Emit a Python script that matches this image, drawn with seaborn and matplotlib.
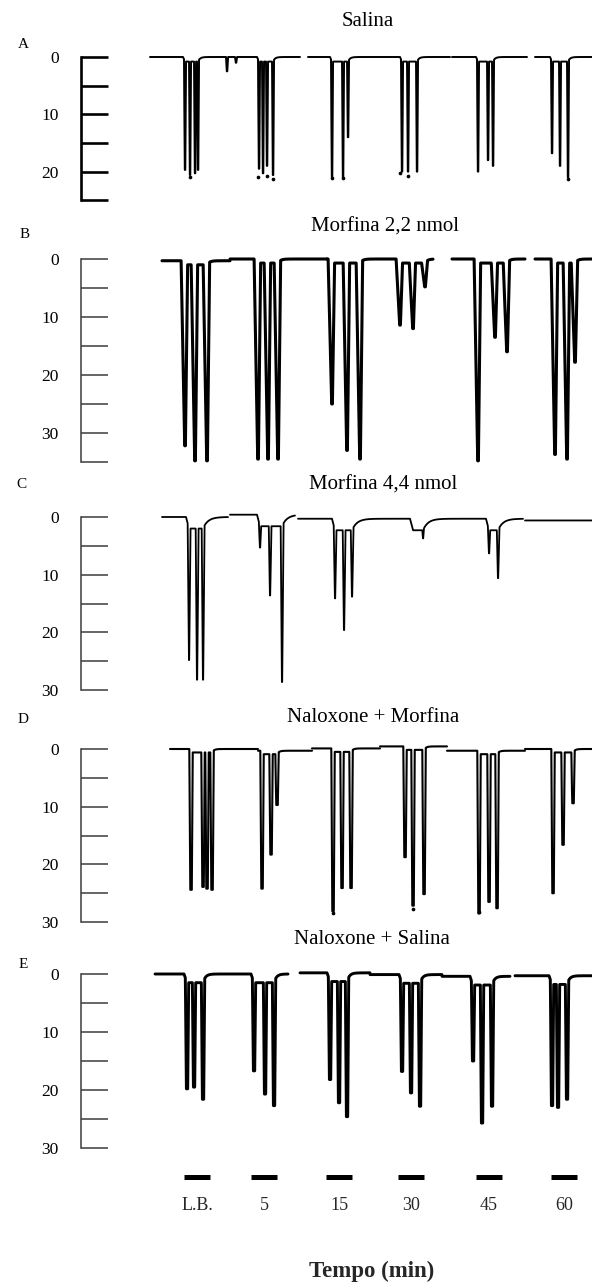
import numpy as np
import pandas as pd
import matplotlib
matplotlib.use("Agg")
import matplotlib.pyplot as plt
import seaborn as sns

sns.set_theme(style="white")
plt.rcParams['font.family'] = ['Liberation Serif', 'DejaVu Serif']

W, H = 592, 1284

# ---------------- data ----------------
panel_letters = ["A", "B", "C", "D", "E"]
panel_titles = ["Salina", "Morfina 2,2 nmol", "Morfina 4,4 nmol",
                "Naloxone + Morfina", "Naloxone + Salina"]
scale_max = [25, 35, 30, 30, 30]
scale_labels = [[0, 10, 20], [0, 10, 20, 30], [0, 10, 20, 30],
                [0, 10, 20, 30], [0, 10, 20, 30]]

# spike position along the chart paper and amplitude (scale units)
A_times = [185, 190, 195, 198, 227, 236, 259, 263, 267, 273, 332, 343, 348,
           402, 408, 417, 478, 488, 493, 552, 560, 568]
A_depths = [19.7, 20.6, 20.3, 19.7, 2.5, 1.0, 19.5, 20.3, 19.0, 20.6, 21, 21, 14,
            20, 20, 20, 20, 18, 19, 16.8, 19, 21]
A_segments = [(150, 300), (308, 450), (452, 527), (535, 592)]
A_offsets = [0, 0, 0, 0]
A_dot_times = [190, 258, 267, 273, 332, 343, 400, 408, 568]
A_dot_depths = [21, 21, 20.8, 21.3, 21.2, 21.2, 20.3, 20.8, 21.3]

B_times = [185, 195, 207, 258, 268, 278, 332, 347, 360, 400, 413, 425,
           478, 495, 507, 555, 567, 575]
B_depths = [31.9, 34.5, 34.5, 34.5, 34.5, 34.5, 25, 33, 34.5, 11.4, 12, 4.8,
            34.8, 13.5, 16, 33.7, 34.5, 17.8]
B_segments = [(162, 230), (230, 327), (327, 433), (452, 525), (535, 592)]
B_offsets = [0.3, 0, 0, 0, 0]

C_times = [189, 197, 203, 260, 270, 282, 335, 344, 352, 413, 423, 489, 498]
C_depths = [24.8, 28.2, 28.2, 5.7, 14, 29, 13.8, 19.3, 13.5, 1.7, 3.4, 6, 10.3]
C_segments = [(162, 228), (230, 295), (298, 523), (525, 592)]
C_offsets = [0, -0.4, 0.3, 0.6]

D_times = [191, 203, 207, 212, 262, 271, 277, 333, 342, 351, 405, 413, 424,
           479, 489, 497, 553, 563, 573]
D_depths = [24.4, 23.9, 24.2, 24.4, 23.9, 18, 9.4, 28.2, 24.2, 24.2, 19.2, 27.6,
            25.6, 28.2, 26.2, 27.3, 25, 16.6, 9.4]
D_segments = [(170, 258), (258, 312), (312, 380), (380, 447), (447, 525), (525, 592)]
D_offsets = [0, 0.3, -0.1, -0.45, 0.3, 0]
D_dot_times = [333, 413, 479]
D_dot_depths = [28.4, 27.8, 28.3]

E_times = [187, 194, 203, 254, 265, 274, 330, 339, 347, 402, 411, 420,
           473, 482, 492, 552, 558, 567]
E_depths = [19.8, 19.5, 21.6, 16.7, 20.7, 22.7, 18.4, 22.4, 24.8, 16.7, 20.4, 22.7,
            14.6, 25.3, 22.4, 22.4, 22.7, 21.3]
E_segments = [(155, 288), (300, 370), (370, 442), (442, 510), (515, 592)]
E_offsets = [0, -0.2, 0.1, 0.4, 0.3]

time_labels = ["L.B.", "5", "15", "30", "45", "60"]
time_marks = [197, 264, 339, 411, 489, 564]

# ---------------- styling / layout ----------------
zero_px = [57, 259, 517, 749, 974]
unit_px = [5.73, 5.8, 5.77, 5.77, 5.8]
u_range = [(-3, 27), (-3, 37), (-3, 33), (-3, 33), (-3, 33)]
trace_lw = [1.4, 2.2, 1.3, 1.5, 2.1]
spike_shape = [(0.7, 0.6, 0.7), (3.5, 0.8, 2.2), (1.2, 0.4, 1.4),
               (0.9, 1.6, 0.9), (1.0, 1.4, 1.0)]
shoulder = [(0.8, 2, 2), (0.7, 2, 2.5), (2.0, 3, 5), (0.6, 1.5, 2), (1.5, 3, 2.5)]
axis_lw = [1.9, 1.1, 1.1, 1.1, 1.1]
axis_col = ["black", "#3c3c3c", "#3c3c3c", "#3c3c3c", "#3c3c3c"]
title_xy = [(368, 22), (385, 227), (383, 485), (373, 717), (372, 939)]
letter_xy = [(23, 45), (25, 235), (21, 485), (23, 720), (23, 965)]

panels = [
    (A_times, A_depths, A_segments, A_offsets, A_dot_times, A_dot_depths),
    (B_times, B_depths, B_segments, B_offsets, [], []),
    (C_times, C_depths, C_segments, C_offsets, [], []),
    (D_times, D_depths, D_segments, D_offsets, D_dot_times, D_dot_depths),
    (E_times, E_depths, E_segments, E_offsets, [], []),
]


def build_trace(times, depths, segments, offsets, shape, sh):
    wl, flat, wr = shape
    sd, slead, stau = sh
    times = np.asarray(times, float)
    depths = np.asarray(depths, float)
    # group spikes into bursts
    order = np.argsort(times)
    groups, cur = [], [order[0]]
    for i in order[1:]:
        if times[i] - times[cur[-1]] > 20:
            groups.append(cur)
            cur = [i]
        else:
            cur.append(i)
    groups.append(cur)
    frames = []
    for k, ((x0, x1), off) in enumerate(zip(segments, offsets)):
        x = np.arange(x0, x1 + 0.01, 0.05)
        y = np.zeros_like(x)
        for g in groups:
            first, last = times[g].min(), times[g].max()
            if last < x0 or first > x1:
                continue
            if sd * max(depths[g].max(), 1) / max(depths[g].max(), 1) > 0 and depths[g].max() > 3:
                env = np.where(x < first, np.clip(1 - (first - x) / slead, 0, 1),
                               np.where(x > last, np.exp(-np.clip(x - last, 0, None) / stau), 1.0))
                y = np.maximum(y, sd * env)
            for i in g:
                c, d = times[i], depths[i]
                lft, rgt = c - flat / 2, c + flat / 2
                s = np.where(x < lft, 1 - (lft - x) / wl,
                             np.where(x > rgt, 1 - (x - rgt) / wr, 1.0))
                y = np.maximum(y, np.clip(s, 0, 1) * d)
        frames.append(pd.DataFrame({"t": x, "amp": y + off, "seg": k}))
    return pd.concat(frames, ignore_index=True)


fig = plt.figure(figsize=(W / 100, H / 100), dpi=100, facecolor="white")

for p in range(5):
    times, depths, segs, offs, dts, dds = panels[p]
    u0, u1 = u_range[p]
    top_px = zero_px[p] + unit_px[p] * u0
    bot_px = zero_px[p] + unit_px[p] * u1
    ax = fig.add_axes([81 / W, 1 - bot_px / H, (W - 81) / W, (bot_px - top_px) / H])
    ax.set_facecolor("none")
    df = build_trace(times, depths, segs, offs, spike_shape[p], shoulder[p])
    sns.lineplot(data=df, x="t", y="amp", units="seg", estimator=None, sort=False,
                 color="black", lw=trace_lw[p], ax=ax, legend=False)
    if dts:
        sns.scatterplot(x=dts, y=dds, color="black", s=7, linewidth=0, ax=ax)
    ax.set_xlim(81, W)
    ax.set_ylim(u1, u0)
    for s in ["top", "right", "bottom"]:
        ax.spines[s].set_visible(False)
    ax.spines["left"].set_visible(True)
    ax.spines["left"].set_bounds(0, scale_max[p])
    ax.spines["left"].set_linewidth(axis_lw[p])
    ax.spines["left"].set_color(axis_col[p])
    ax.set_yticks(scale_labels[p])
    ax.set_yticklabels([str(v) for v in scale_labels[p]])
    ax.set_yticks([v for v in range(5, scale_max[p] + 1, 10)], minor=True)
    ax.tick_params(axis="y", which="both", left=True, direction="in", length=19.5,
                   width=axis_lw[p], color=axis_col[p], pad=16, labelsize=12.5,
                   labelcolor="black")
    ax.tick_params(axis="x", bottom=False, labelbottom=False)
    ax.set_xlabel("")
    ax.set_ylabel("")
    tx, ty = title_xy[p]
    fig.text(tx / W, 1 - ty / H, panel_titles[p], ha="center", va="center",
             fontsize=15, color="black")
    lx, ly = letter_xy[p]
    fig.text(lx / W, 1 - ly / H, panel_letters[p], ha="center", va="center",
             fontsize=11, color="black")

# time bars and labels
axb = fig.add_axes([0, 1 - 1185 / H, 1, 16 / H])
axb.set_facecolor("none")
axb.set_xlim(0, W)
axb.set_ylim(0, 1)
axb.hlines([0.5] * len(time_marks), [m - 13 for m in time_marks],
           [m + 13 for m in time_marks], color="black", lw=3.6)
axb.set_xticks(time_marks)
axb.set_xticklabels(time_labels)
axb.tick_params(axis="x", bottom=False, length=0, pad=9, labelsize=13)
axb.tick_params(axis="y", left=False, labelleft=False)
for s in axb.spines.values():
    s.set_visible(False)
axb.set_xlabel("Tempo (min)", fontsize=16.5, fontweight="bold")
axb.xaxis.set_label_coords(372 / W, -(1261 - 1185) / 16)

fig.savefig("out.png", dpi=100, facecolor="white")
